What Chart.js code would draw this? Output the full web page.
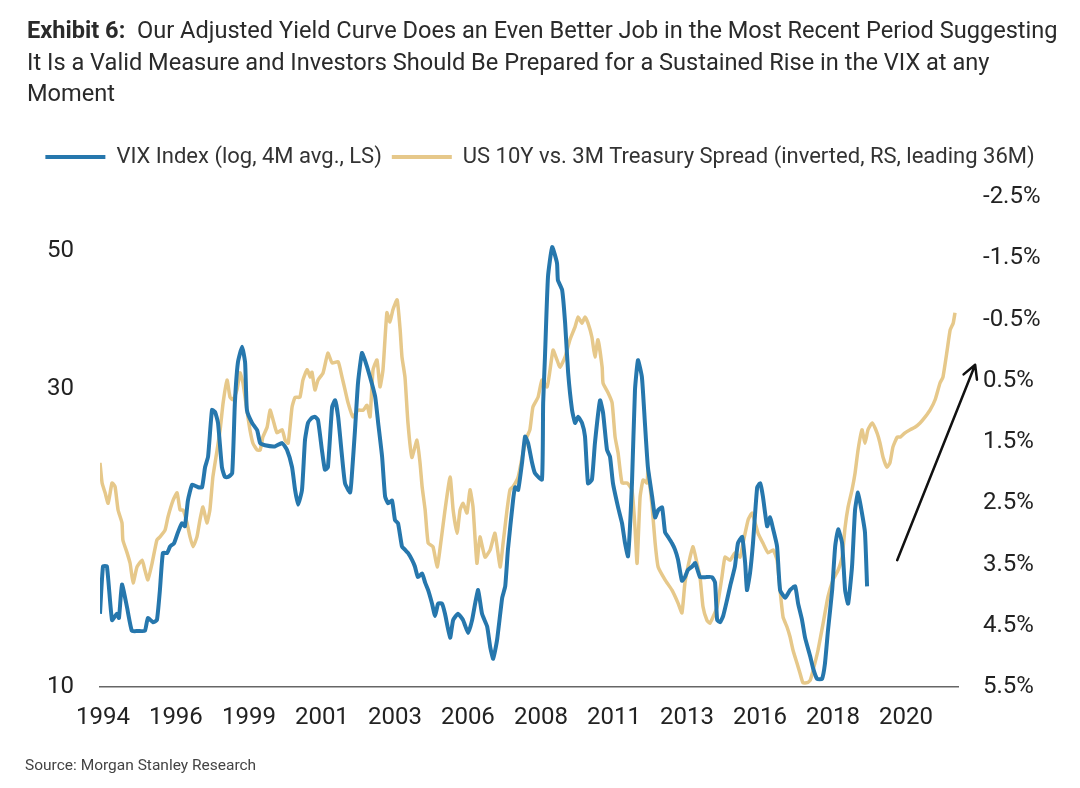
<!DOCTYPE html>
<html>
<head>
<meta charset="utf-8">
<script src="https://cdn.jsdelivr.net/npm/chart.js@4.4.1/dist/chart.umd.min.js"></script>
<style>
  html, body { margin: 0; padding: 0; background: #ffffff; }
  #wrap { position: relative; width: 1080px; height: 788px; overflow: hidden; background: #fff; }
  #c { position: absolute; left: 0; top: 0; }
  #title { position: absolute; left: 27px; top: 15px; font-family: Roboto, "Liberation Sans", sans-serif; font-size: 23.6px; line-height: 31.5px; color: #2a2a2a; white-space: nowrap; }
  #title b { font-weight: 700; }
  #source { position: absolute; left: 25px; top: 756px; font-family: Roboto, sans-serif; font-size: 15.5px; color: #444; white-space: nowrap; }
</style>
</head>
<body>
<div id="wrap">
  <canvas id="c" width="1080" height="788"></canvas>
  <div id="title"><b>Exhibit 6:</b>&nbsp; Our Adjusted Yield Curve Does an Even Better Job in the Most Recent Period Suggesting<br>It Is a Valid Measure and Investors Should Be Prepared for a Sustained Rise in the VIX at any<br>Moment</div>
  <div id="source">Source: Morgan Stanley Research</div>
</div>
<script>
// ---- Data ----
const seriesNames = ["VIX Index (log, 4M avg., LS)", "US 10Y vs. 3M Treasury Spread (inverted, RS, leading 36M)"];

const vixDates = [1994.00,1994.10,1994.23,1994.40,1994.56,1994.63,1994.73,1994.90,1995.06,1995.26,1995.49,1995.59,1995.76,1995.89,1995.99,1996.09,1996.23,1996.33,1996.46,1996.59,1996.72,1996.82,1996.92,1997.06,1997.26,1997.39,1997.49,1997.59,1997.72,1997.82,1997.92,1998.05,1998.15,1998.25,1998.39,1998.48,1998.58,1998.72,1998.82,1998.88,1999.05,1999.22,1999.32,1999.48,1999.81,2000.05,2000.21,2000.38,2000.48,2000.58,2000.71,2000.81,2000.91,2001.04,2001.14,2001.24,2001.37,2001.47,2001.57,2001.71,2001.81,2001.91,2002.04,2002.14,2002.31,2002.37,2002.47,2002.57,2002.70,2002.80,2002.97,2003.14,2003.24,2003.37,2003.47,2003.57,2003.70,2003.80,2003.90,2004.03,2004.13,2004.23,2004.36,2004.46,2004.56,2004.70,2004.80,2004.90,2005.03,2005.13,2005.23,2005.36,2005.46,2005.63,2005.73,2005.89,2006.06,2006.23,2006.36,2006.46,2006.56,2006.69,2006.86,2006.96,2007.06,2007.19,2007.36,2007.46,2007.55,2007.72,2007.79,2007.89,2008.02,2008.12,2008.22,2008.35,2008.45,2008.68,2008.72,2008.78,2008.88,2009.02,2009.18,2009.21,2009.35,2009.45,2009.55,2009.68,2009.78,2009.88,2010.01,2010.11,2010.21,2010.34,2010.44,2010.61,2010.71,2010.84,2010.94,2011.04,2011.21,2011.34,2011.44,2011.54,2011.67,2011.77,2011.87,2012.00,2012.10,2012.20,2012.34,2012.44,2012.54,2012.67,2012.77,2012.87,2013.00,2013.10,2013.20,2013.33,2013.43,2013.53,2013.67,2013.77,2013.93,2014.10,2014.33,2014.43,2014.50,2014.60,2014.70,2014.83,2014.93,2015.09,2015.19,2015.33,2015.43,2015.49,2015.59,2015.69,2015.83,2015.93,2016.02,2016.16,2016.26,2016.36,2016.49,2016.59,2016.76,2016.92,2017.09,2017.19,2017.32,2017.42,2017.59,2017.69,2017.82,2017.98,2018.08,2018.18,2018.32,2018.42,2018.52,2018.65,2018.75,2018.85,2018.98,2019.08,2019.18,2019.31,2019.41,2019.48];
const vixValues = [13.1,15.6,15.6,12.8,13.1,12.9,14.6,13.4,12.3,12.3,12.3,12.9,12.7,12.8,14.3,16.4,16.4,16.8,17.0,17.7,18.3,18.1,19.9,21.1,20.9,20.9,22.5,23.4,27.8,27.6,26.5,22.5,21.7,21.7,22.0,28.5,33.1,35.1,33.1,27.8,26.5,25.8,24.6,24.4,24.3,24.6,24.0,22.5,20.7,19.6,20.7,24.9,26.5,27.0,27.1,26.8,24.0,22.3,22.5,28.1,28.8,27.1,23.4,21.2,20.5,22.0,25.8,30.7,34.3,33.4,31.4,29.2,26.5,23.4,20.2,19.7,19.9,18.5,18.3,16.8,16.6,16.4,16.0,15.6,15.0,15.2,14.7,14.3,13.6,13.0,13.6,13.6,13.1,12.0,12.8,13.1,12.8,12.2,12.8,13.6,14.3,13.1,12.5,11.6,11.1,11.9,13.9,14.5,16.6,19.9,20.9,20.7,22.9,25.2,24.6,22.9,22.0,21.5,28.5,33.8,45.4,50.7,47.8,44.9,43.3,38.3,31.9,27.8,26.5,27.1,26.5,25.2,21.2,21.5,24.6,28.8,27.5,24.0,23.4,21.2,19.4,18.3,17.0,16.2,21.2,29.9,33.4,31.4,26.5,22.5,20.2,18.7,19.2,19.4,17.7,17.4,17.0,16.6,16.0,14.8,15.0,15.4,15.6,15.8,15.0,15.0,15.0,14.7,12.8,12.7,13.0,13.8,14.5,15.6,17.0,17.4,15.8,14.3,15.2,17.0,20.9,21.2,20.2,18.1,18.7,17.9,16.8,14.3,13.9,14.3,14.5,13.6,12.8,12.0,11.2,10.7,10.3,10.3,10.9,12.3,14.3,16.8,17.9,17.0,14.3,13.6,15.6,19.2,20.5,19.0,17.7,14.5];

const spreadDates = [1994.00,1994.07,1994.17,1994.27,1994.40,1994.50,1994.60,1994.73,1994.76,1994.90,1995.00,1995.10,1995.23,1995.40,1995.49,1995.59,1995.73,1995.89,1995.99,1996.16,1996.26,1996.43,1996.56,1996.66,1996.76,1996.89,1996.99,1997.09,1997.22,1997.32,1997.42,1997.55,1997.65,1997.75,1997.89,1997.99,1998.09,1998.22,1998.32,1998.42,1998.55,1998.65,1998.75,1998.88,1998.98,1999.08,1999.22,1999.32,1999.41,1999.55,1999.65,1999.75,1999.88,2000.05,2000.15,2000.25,2000.38,2000.48,2000.64,2000.74,2000.88,2000.98,2001.04,2001.14,2001.24,2001.41,2001.57,2001.71,2001.91,2002.04,2002.14,2002.24,2002.40,2002.57,2002.74,2002.87,2002.97,2003.07,2003.20,2003.30,2003.40,2003.53,2003.63,2003.73,2003.87,2003.97,2004.03,2004.13,2004.23,2004.36,2004.53,2004.63,2004.70,2004.80,2004.90,2005.06,2005.20,2005.29,2005.46,2005.63,2005.73,2005.86,2005.96,2006.06,2006.19,2006.29,2006.39,2006.52,2006.62,2006.79,2006.96,2007.12,2007.29,2007.39,2007.52,2007.62,2007.72,2007.89,2008.05,2008.18,2008.28,2008.38,2008.55,2008.68,2008.85,2008.95,2009.05,2009.18,2009.28,2009.45,2009.61,2009.78,2009.88,2010.01,2010.11,2010.21,2010.34,2010.44,2010.54,2010.68,2010.71,2010.88,2011.01,2011.11,2011.21,2011.34,2011.51,2011.67,2011.77,2011.84,2011.94,2012.04,2012.17,2012.20,2012.34,2012.44,2012.54,2012.77,2013.00,2013.20,2013.33,2013.43,2013.60,2013.70,2013.83,2013.93,2014.03,2014.16,2014.26,2014.36,2014.50,2014.66,2014.76,2014.93,2015.09,2015.26,2015.36,2015.53,2015.66,2015.76,2015.86,2016.02,2016.19,2016.36,2016.49,2016.59,2016.69,2016.82,2016.92,2017.02,2017.15,2017.25,2017.35,2017.49,2017.59,2017.69,2017.85,2018.02,2018.18,2018.35,2018.52,2018.65,2018.75,2018.85,2018.98,2019.08,2019.18,2019.31,2019.41,2019.51,2019.65,2019.81,2019.91,2020.01,2020.14,2020.24,2020.34,2020.48,2020.58,2020.74,2020.91,2021.07,2021.24,2021.41,2021.57,2021.74,2021.90,2022.00,2022.14,2022.24,2022.34,2022.40];
const spreadValues = [1.84,2.17,2.33,2.50,2.17,2.23,2.61,2.82,3.10,3.31,3.48,3.80,3.54,3.43,3.59,3.75,3.48,3.10,3.05,2.94,2.72,2.45,2.33,2.61,2.61,2.82,3.05,3.21,3.05,2.77,2.56,2.82,2.61,2.07,1.63,1.30,0.86,0.49,0.77,0.81,0.65,0.37,0.54,0.98,1.30,1.52,1.63,1.63,1.42,1.26,0.98,1.14,1.35,1.30,1.47,1.52,0.93,0.77,0.77,0.49,0.32,0.44,0.36,0.65,0.49,0.37,0.05,0.21,0.19,0.44,0.65,0.86,1.09,0.98,0.98,0.90,1.09,0.32,0.16,0.60,0.32,-0.61,-0.46,-0.66,-0.82,-0.33,0.11,0.44,1.19,1.75,1.47,1.84,2.23,2.61,3.15,3.21,3.54,3.26,2.61,2.07,2.61,2.99,2.61,2.50,2.66,2.28,2.56,3.48,3.05,3.38,3.26,2.99,3.54,3.15,2.61,2.28,2.23,2.07,1.68,1.42,1.30,0.93,0.77,0.49,0.60,0.32,0.00,0.16,0.28,0.11,-0.17,-0.38,-0.54,-0.44,-0.54,-0.44,-0.21,0.11,-0.17,0.28,0.54,0.70,0.86,1.42,1.68,2.17,2.17,2.28,2.89,3.48,2.40,2.12,2.17,1.96,2.56,3.15,3.54,3.75,3.92,4.13,4.29,3.80,3.38,3.21,3.48,3.70,4.19,4.41,4.46,4.36,4.19,3.70,3.38,3.43,3.31,3.38,3.15,2.77,2.66,2.82,2.99,3.15,3.31,3.26,3.43,3.92,4.36,4.52,4.68,4.90,5.11,5.27,5.43,5.43,5.39,5.22,4.90,4.46,4.03,3.75,3.59,3.38,2.89,2.56,2.28,2.01,1.63,1.30,1.52,1.30,1.19,1.35,1.52,1.75,1.91,1.84,1.58,1.42,1.42,1.35,1.30,1.26,1.19,1.09,0.98,0.81,0.54,0.44,0.00,-0.33,-0.44,-0.61];

// Axis ticks and labels
const xTickPositions = [1994.10,1996.52,1998.95,2001.37,2003.80,2006.22,2008.65,2011.07,2013.50,2015.92,2018.35,2020.77];
const xTickLabels = ["1994","1996","1999","2001","2003","2006","2008","2011","2013","2016","2018","2020"];
const leftTicks = [10, 30, 50];
const rightTicks = [-2.5, -1.5, -0.5, 0.5, 1.5, 2.5, 3.5, 4.5, 5.5];

// Arrow annotation (in data units: year, spread %)
const arrowFrom = [2020.48, 3.43];
const arrowTo = [2023.07, 0.24];

const BLUE = '#2677ad';
const GOLD = '#e6c88a';

const toPoints = (xs, ys) => xs.map((x, i) => ({ x: x, y: ys[i] }));

const legendSpacer = {
  id: 'legendSpacer',
  beforeInit(chart) {
    const origFit = chart.legend.fit;
    chart.legend.fit = function () {
      origFit.bind(chart.legend)();
      this.height += 19;
    };
  }
};

const arrowPlugin = {
  id: 'arrowPlugin',
  afterDatasetsDraw(chart) {
    const xs = chart.scales.x, ys = chart.scales.yR;
    const x1 = xs.getPixelForValue(arrowFrom[0]), y1 = ys.getPixelForValue(arrowFrom[1]);
    const x2 = xs.getPixelForValue(arrowTo[0]), y2 = ys.getPixelForValue(arrowTo[1]);
    const ctx = chart.ctx;
    ctx.save();
    ctx.strokeStyle = '#111';
    ctx.lineWidth = 2.5;
    ctx.lineCap = 'round';
    ctx.lineJoin = 'round';
    ctx.beginPath();
    ctx.moveTo(x1, y1);
    ctx.lineTo(x2, y2);
    const ang = Math.atan2(y2 - y1, x2 - x1);
    const L = 15, spread = 0.5;
    ctx.moveTo(x2 - L * Math.cos(ang - spread), y2 - L * Math.sin(ang - spread));
    ctx.lineTo(x2, y2);
    ctx.lineTo(x2 - L * Math.cos(ang + spread), y2 - L * Math.sin(ang + spread));
    ctx.stroke();
    ctx.restore();
  }
};

new Chart(document.getElementById('c'), {
  type: 'line',
  data: {
    datasets: [
      {
        label: seriesNames[0],
        data: toPoints(vixDates, vixValues),
        yAxisID: 'yL',
        borderColor: BLUE,
        backgroundColor: BLUE,
        borderWidth: 4,
        pointRadius: 0,
        tension: 0.15
      },
      {
        label: seriesNames[1],
        data: toPoints(spreadDates, spreadValues),
        yAxisID: 'yR',
        borderColor: GOLD,
        backgroundColor: GOLD,
        borderWidth: 3.5,
        pointRadius: 0,
        tension: 0.15
      }
    ]
  },
  plugins: [legendSpacer, arrowPlugin],
  options: {
    responsive: false,
    animation: false,
    layout: { padding: { top: 136, bottom: 51, left: 0, right: 0 } },
    plugins: {
      tooltip: { enabled: false },
      legend: {
        display: true,
        position: 'top',
        align: 'center',
        labels: {
          boxWidth: 60,
          boxHeight: 4,
          padding: 10,
          color: '#333',
          font: { family: 'Roboto, sans-serif', size: 22 },
          generateLabels(chart) {
            return Chart.defaults.plugins.legend.labels.generateLabels(chart).map(l => Object.assign(l, { lineWidth: 0 }));
          }
        }
      }
    },
    scales: {
      x: {
        type: 'linear',
        min: 1994.0,
        max: 2022.5,
        afterBuildTicks(scale) { scale.ticks = xTickPositions.map(v => ({ value: v })); },
        afterFit(scale) { scale.height = 50; },
        grid: { display: false, drawTicks: false },
        border: { display: true, color: '#666', width: 1.5 },
        ticks: {
          autoSkip: false,
          maxRotation: 0,
          padding: 17,
          color: '#222',
          font: { family: 'Roboto, sans-serif', size: 24 },
          callback(v, i) { return xTickLabels[i]; }
        }
      },
      yL: {
        type: 'logarithmic',
        position: 'left',
        min: 10,
        max: 61,
        afterBuildTicks(scale) { scale.ticks = leftTicks.map(v => ({ value: v })); },
        afterFit(scale) { scale.width = 100; },
        grid: { display: false, drawTicks: false },
        border: { display: false },
        ticks: {
          padding: 26,
          color: '#222',
          font: { family: 'Roboto, sans-serif', size: 24 },
          callback(v) { return String(v); }
        }
      },
      yR: {
        type: 'linear',
        position: 'right',
        reverse: true,
        min: -2.5,
        max: 5.5,
        afterBuildTicks(scale) { scale.ticks = rightTicks.map(v => ({ value: v })); },
        afterFit(scale) { scale.width = 122; },
        grid: { display: false, drawTicks: false },
        border: { display: false },
        ticks: {
          padding: 25,
          color: '#222',
          font: { family: 'Roboto, sans-serif', size: 24 },
          callback(v) { return v.toFixed(1) + '%'; }
        }
      }
    }
  }
});
</script>
</body>
</html>
